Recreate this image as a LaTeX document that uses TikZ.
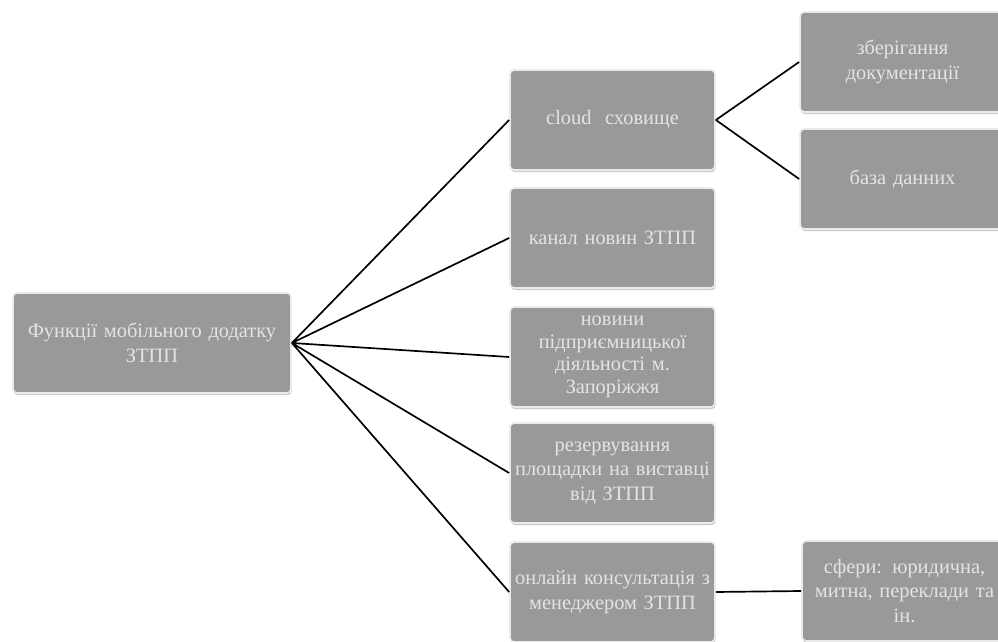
\documentclass[tikz,border=0pt]{standalone}
\usepackage{fontspec}
\setmainfont{Liberation Serif}
\usetikzlibrary{shadows}
\definecolor{box_gray}{RGB}{153,153,153}
\definecolor{box_edge}{RGB}{235,235,235}
\definecolor{text_light}{RGB}{228,228,228}

\begin{document}
\begin{tikzpicture}[x=0.025cm,y=-0.025cm,line width=1.2pt]
    \tikzstyle{box}=[draw=box_edge, fill=box_gray, rounded corners=3pt, text=text_light,
                     align=center, inner sep=1pt, minimum height=2.5cm,
                     font=\fontsize{14.5}{17.5}\selectfont,
                     drop shadow={shadow xshift=0.5pt,shadow yshift=-1.5pt,fill=black!35,opacity=0.6}]
    \tikzstyle{rootbox}=[style=box, minimum width=6.95cm, text width=6.6cm]
    \tikzstyle{midbox}=[style=box, minimum width=5.125cm, text width=5.0cm]

    \useasboundingbox (0,0) rectangle (998,642);
    \clip (0,0) rectangle (998,642);

    \node[rootbox] (root)     at (152,343)   {Функції мобільного додатку\\ЗТПП};
    \node[midbox]  (cloud)    at (612.5,120) {cloud\ \ сховище};
    \node[midbox]  (channel)  at (612.5,238) {канал новин ЗТПП};
    \node[midbox, font=\fontsize{14.5}{16}\selectfont]
                   (biznews)  at (612.5,357) {новини\\підприємницької\\діяльності м.\\Запоріжжя};
    \node[midbox]  (booking)  at (612.5,473) {резервування\\площадки на виставці\\від ЗТПП};
    \node[midbox]  (consult)  at (612.5,592) {онлайн консультація з\\менеджером ЗТПП};
    \node[midbox]  (docs)     at (902.5,62)  {зберігання\\документації};
    \node[midbox]  (database) at (902.5,179) {база данних};
    \node[midbox]  (spheres)  at (904.5,591) {сфери: юридична,\\митна, переклади та\\ін.};

    \path[draw]
     (root.east) -- (cloud.west)
     (root.east) -- (channel.west)
     (root.east) -- (biznews.west)
     (root.east) -- (booking.west)
     (root.east) -- (consult.west)
     (cloud.east) -- (docs.west)
     (cloud.east) -- (database.west)
     (consult.east) -- (spheres.west)
     ;
\end{tikzpicture}
\end{document}
